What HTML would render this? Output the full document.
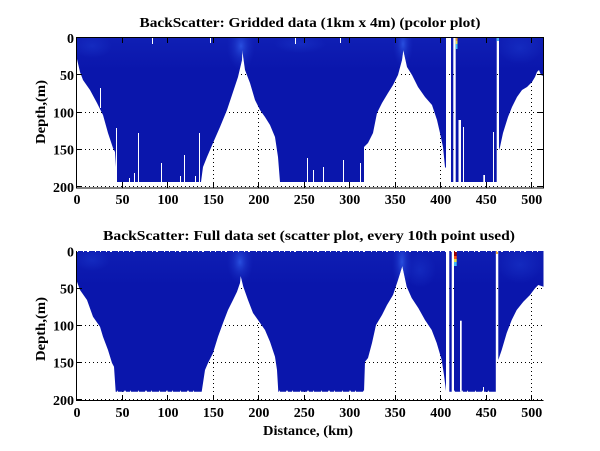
<!DOCTYPE html>
<html><head><meta charset="utf-8"><style>
html,body{margin:0;padding:0;background:#fff;}
svg{display:block;}
text{font-family:"Liberation Serif",serif;font-weight:bold;font-size:14px;fill:#000;}
</style></head><body>
<svg width="600" height="451" viewBox="0 0 600 451" xmlns="http://www.w3.org/2000/svg">
<defs>
<path id="tA" d="M77,38 L446,38 L446,168 L445,167 L443,147 L440,133 L437,120 L432,105 L425,97 L418,87 L412,75 L407,67 L403.3,50 L402,60 L398,75 L393,85 L388,93 L382,103 L377,113 L373,133 L368,143 L364,147 L364,182 L280,182 L278,157 L275,137 L270,125 L265,117 L260,110 L255,100 L250,83 L245,70 L242.3,50 L242,60 L238,77 L233,92 L227,110 L220,127 L213,143 L207,157 L203,167 L201,182 L117,182 L115,152 L113,148 L108,133 L103,115 L97,103 L90,90 L83,80 L80,72 L77,59 Z"/>
<path id="tB" d="M451,38 L453.3,38 L453.3,182 L451,182 Z"/>
<path id="tC" d="M455.7,38 L496.7,38 L496.7,182 L455.7,182 Z"/>
<path id="tD" d="M499,38 L543.5,38 L543.5,76 L541,75 L539,70 L537,72 L535,77 L532,82 L527,87 L522,90 L517,97 L512,107 L508,117 L503,133 L500,147 L499,150 Z"/>
<path id="bA" d="M77,251 L446,251 L446,391 L444,375 L441.7,360 L436.7,343 L431.7,330 L425,320 L418.3,308 L411.7,298 L406.7,286.7 L402.3,266 L398,280 L393,295 L387,305 L382,315 L376,325 L372,343 L368,358 L365,361.7 L364,391.7 L278.3,391.7 L277,370 L275,356.7 L270,341.7 L265,330 L258,320 L253,313 L248,300 L243.3,286.7 L240.7,276 L240,283 L237,291.7 L233,300 L228,310 L223,323 L218,336.7 L213,353 L208,363 L205,370 L201.7,391.7 L115.7,391.7 L114,366.7 L112,363 L108,350 L103,336.7 L100,326.7 L93,316.7 L87,300 L80,290 L77,281.7 Z"/>
<path id="bB" d="M449.3,251 L451.7,251 L451.7,391.7 L449.3,391.7 Z"/>
<path id="bC" d="M454,251 L495.8,251 L495.8,391.7 L454,391.7 Z"/>
<path id="bD" d="M498.3,251 L543.5,251 L543.5,286.7 L538.3,285 L535,288.3 L530,295 L523.3,301.7 L516.7,310 L511.7,320 L506.7,333 L501.7,350 L498.3,360 Z"/>
<clipPath id="clipT"><use href="#tA"/><use href="#tB"/><use href="#tC"/><use href="#tD"/></clipPath>
<clipPath id="clipB"><use href="#bA"/><use href="#bB"/><use href="#bC"/><use href="#bD"/></clipPath>
<radialGradient id="gBright"><stop offset="0" stop-color="#3260ee" stop-opacity="0.75"/><stop offset="0.5" stop-color="#2446d8" stop-opacity="0.35"/><stop offset="1" stop-color="#1a30c8" stop-opacity="0"/></radialGradient>
<radialGradient id="gSoft"><stop offset="0" stop-color="#1c3cd0" stop-opacity="0.45"/><stop offset="1" stop-color="#1c3cd0" stop-opacity="0"/></radialGradient>
<linearGradient id="gTopT" x1="0" y1="37" x2="0" y2="70" gradientUnits="userSpaceOnUse"><stop offset="0" stop-color="#1a30c4" stop-opacity="0.35"/><stop offset="1" stop-color="#1a30c4" stop-opacity="0"/></linearGradient>
<linearGradient id="gTopB" x1="0" y1="251" x2="0" y2="285" gradientUnits="userSpaceOnUse"><stop offset="0" stop-color="#1a30c4" stop-opacity="0.3"/><stop offset="1" stop-color="#1a30c4" stop-opacity="0"/></linearGradient>
</defs>
<rect width="600" height="451" fill="#fff"/>

<g stroke="#000" stroke-width="1" stroke-dasharray="1 3" fill="none" shape-rendering="crispEdges">
<path d="M122.5,38V188 M167.5,38V188 M213.5,38V188 M258.5,38V188 M304.5,38V188 M349.5,38V188 M395.5,38V188 M440.5,38V188 M486.5,38V188 M531.5,38V188"/>
<path d="M77,74.5H543 M77,112.5H543 M77,149.5H543 M77,186.5H543"/>
<path d="M122.5,251V401 M167.5,251V401 M213.5,251V401 M258.5,251V401 M304.5,251V401 M349.5,251V401 M395.5,251V401 M440.5,251V401 M486.5,251V401 M531.5,251V401"/>
<path d="M77,288.5H543 M77,325.5H543 M77,362.5H543 M77,399.5H543"/>
</g>

<g fill="#0a16ac">
<use href="#tA"/><use href="#tB"/><use href="#tC"/><use href="#tD"/>
</g>
<g clip-path="url(#clipT)">
<rect x="77" y="37" width="467" height="35" fill="url(#gTopT)"/>
<ellipse cx="241" cy="46" rx="14" ry="24" fill="url(#gBright)"/>
<ellipse cx="403" cy="44" rx="10" ry="24" fill="url(#gBright)"/>
<ellipse cx="92" cy="46" rx="20" ry="12" fill="url(#gSoft)"/>
<ellipse cx="520" cy="48" rx="22" ry="16" fill="url(#gSoft)"/>
<ellipse cx="300" cy="44" rx="26" ry="9" fill="url(#gSoft)"/>
</g>
<rect x="496.7" y="38" width="2.3" height="3" fill="#4ab0f0"/>
<rect x="455.7" y="38" width="1.8" height="3" fill="#f0a030"/>
<rect x="455.7" y="41" width="1.8" height="3" fill="#e0e050"/>
<rect x="455.7" y="44" width="1.8" height="5" fill="#40b8f0"/>
<g fill="#fff">
<rect x="100" y="88" width="1" height="20"/>
<rect x="116" y="128" width="1" height="54"/>
<rect x="129" y="178" width="1" height="4"/>
<rect x="134" y="173" width="1" height="9"/>
<rect x="138" y="133" width="1" height="49"/>
<rect x="161" y="163" width="1" height="19"/>
<rect x="180" y="176" width="1" height="6"/>
<rect x="184" y="155" width="1" height="27"/>
<rect x="195" y="176" width="1" height="6"/>
<rect x="199" y="133" width="1" height="49"/>
<rect x="152" y="38" width="1" height="6"/>
<rect x="210" y="38" width="1" height="5"/>
<rect x="295" y="38" width="1" height="6"/>
<rect x="340" y="38" width="1" height="5"/>
<rect x="307" y="158" width="1" height="24"/>
<rect x="313" y="170" width="1" height="12"/>
<rect x="323" y="167" width="1" height="15"/>
<rect x="343" y="160" width="1" height="22"/>
<rect x="360" y="163" width="1" height="19"/>
<rect x="458.5" y="120" width="2.5" height="62"/>
<rect x="463" y="127" width="1" height="55"/>
<rect x="483.3" y="175" width="1.7" height="7"/>
<rect x="493" y="132" width="1" height="50"/>
</g>

<g fill="#0a16ac">
<use href="#bA"/><use href="#bB"/><use href="#bC"/><use href="#bD"/>
</g>
<g clip-path="url(#clipB)">
<rect x="77" y="251" width="467" height="34" fill="url(#gTopB)"/>
<ellipse cx="240" cy="262" rx="13" ry="22" fill="url(#gBright)"/>
<ellipse cx="402" cy="262" rx="10" ry="30" fill="url(#gBright)"/>
<ellipse cx="92" cy="260" rx="18" ry="11" fill="url(#gSoft)"/>
<ellipse cx="520" cy="265" rx="22" ry="18" fill="url(#gSoft)"/>
<ellipse cx="420" cy="270" rx="16" ry="18" fill="url(#gSoft)"/>
</g>
<rect x="454" y="251" width="2.7" height="5" fill="#a00000"/>
<rect x="454" y="256" width="2.7" height="3" fill="#ff5010"/>
<rect x="454" y="259" width="2.7" height="3" fill="#e8e040"/>
<rect x="454" y="262" width="2.7" height="4" fill="#40b8f8"/>
<rect x="496" y="251" width="2" height="3" fill="#f0b040"/>
<g fill="#fff">
<rect x="460" y="320.7" width="1.7" height="71"/>
<rect x="483" y="387" width="1" height="5"/>
</g>
<g stroke="#fff" stroke-width="1" fill="none">
<path d="M77,251.5H543" stroke-dasharray="1 5 1 3 2 6 1 4"/>
<path d="M117,391.2H201 M279,391.2H364 M454,391.2H495" stroke-dasharray="1 6 2 4 1 7"/>
</g>

<g stroke="#000" stroke-width="1" fill="none" shape-rendering="crispEdges">
<rect x="76.5" y="37.5" width="467" height="150.5"/>
<path d="M122.5,188v-5 M167.5,188v-5 M213.5,188v-5 M258.5,188v-5 M304.5,188v-5 M349.5,188v-5 M395.5,188v-5 M440.5,188v-5 M486.5,188v-5 M531.5,188v-5"/>
<path d="M122.5,38v5 M167.5,38v5 M213.5,38v5 M258.5,38v5 M304.5,38v5 M349.5,38v5 M395.5,38v5 M440.5,38v5 M486.5,38v5 M531.5,38v5"/>
<path d="M77,74.5h5 M77,112.5h5 M77,149.5h5 M77,186.5h5 M543,74.5h-5 M543,112.5h-5 M543,149.5h-5 M543,186.5h-5"/>
<path d="M76.5,251V401 M76.5,400.5H543.5"/>
<path d="M122.5,401v-5 M167.5,401v-5 M213.5,401v-5 M258.5,401v-5 M304.5,401v-5 M349.5,401v-5 M395.5,401v-5 M440.5,401v-5 M486.5,401v-5 M531.5,401v-5"/>
<path d="M77,288.5h5 M77,325.5h5 M77,362.5h5 M77,399.5h5"/>
</g>

<text x="310" y="27" text-anchor="middle" textLength="341" lengthAdjust="spacingAndGlyphs">BackScatter: Gridded data (1km x 4m) (pcolor plot)</text>
<text x="309" y="240" text-anchor="middle" textLength="412" lengthAdjust="spacingAndGlyphs">BackScatter: Full data set (scatter plot, every 10th point used)</text>
<text x="308" y="435" text-anchor="middle" textLength="90" lengthAdjust="spacingAndGlyphs">Distance, (km)</text>
<text transform="translate(45,112) rotate(-90)" text-anchor="middle" textLength="64" lengthAdjust="spacingAndGlyphs">Depth,(m)</text>
<text transform="translate(45,329) rotate(-90)" text-anchor="middle" textLength="64" lengthAdjust="spacingAndGlyphs">Depth,(m)</text>

<g text-anchor="middle">
<text x="77" y="204">0</text><text x="122.5" y="204">50</text><text x="168" y="204">100</text><text x="213.4" y="204">150</text><text x="258.9" y="204">200</text><text x="304.3" y="204">250</text><text x="349.8" y="204">300</text><text x="395.3" y="204">350</text><text x="440.7" y="204">400</text><text x="486.2" y="204">450</text><text x="531.7" y="204">500</text>
<text x="77" y="417">0</text><text x="122.5" y="417">50</text><text x="168" y="417">100</text><text x="213.4" y="417">150</text><text x="258.9" y="417">200</text><text x="304.3" y="417">250</text><text x="349.8" y="417">300</text><text x="395.3" y="417">350</text><text x="440.7" y="417">400</text><text x="486.2" y="417">450</text><text x="531.7" y="417">500</text>
</g>
<g text-anchor="end">
<text x="74" y="43">0</text><text x="74" y="80">50</text><text x="74" y="117.5">100</text><text x="74" y="154.5">150</text><text x="74" y="192">200</text>
<text x="74" y="256.5">0</text><text x="74" y="293.5">50</text><text x="74" y="330.5">100</text><text x="74" y="367.5">150</text><text x="74" y="405">200</text>
</g>
</svg>
</body></html>
